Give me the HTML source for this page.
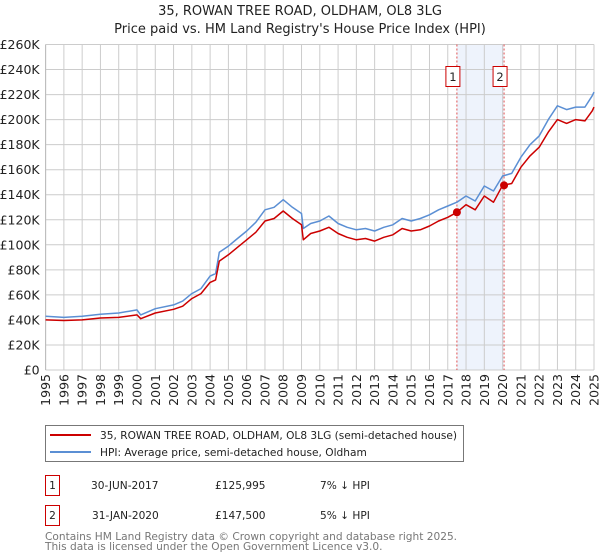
<!DOCTYPE html>
<html><head><meta charset="utf-8"><style>
body{margin:0;background:#fff;font-family:"Liberation Sans","DejaVu Sans",sans-serif;}
svg{display:block}
</style></head><body>
<svg id="c" width="600" height="560" xmlns="http://www.w3.org/2000/svg" font-family="DejaVu Sans, Liberation Sans, sans-serif">
<text x="300" y="15" text-anchor="middle" font-size="13" fill="#222">35, ROWAN TREE ROAD, OLDHAM, OL8 3LG</text>
<text x="300" y="33" text-anchor="middle" font-size="13" fill="#222">Price paid vs. HM Land Registry's House Price Index (HPI)</text>
<g id="plot"></g>
<g>
<rect x="45.5" y="425.5" width="418" height="36" fill="#fff" stroke="#777"/>
<line x1="50" y1="435" x2="91" y2="435" stroke="#cc0000" stroke-width="2"/>
<text x="100" y="439" font-size="10.6" fill="#222">35, ROWAN TREE ROAD, OLDHAM, OL8 3LG (semi-detached house)</text>
<line x1="50" y1="452" x2="91" y2="452" stroke="#5b8fd4" stroke-width="2"/>
<text x="100" y="456" font-size="10.6" fill="#222">HPI: Average price, semi-detached house, Oldham</text>
</g>
<g font-size="10.6" fill="#222">
<rect x="45.5" y="475.5" width="14" height="20" fill="#fff" stroke="#cc0000"/>
<text x="52.5" y="489" text-anchor="middle">1</text>
<text x="91" y="489">30-JUN-2017</text>
<text x="215" y="489">£125,995</text>
<text x="320" y="489">7% ↓ HPI</text>
<rect x="45.5" y="505.5" width="14" height="20" fill="#fff" stroke="#cc0000"/>
<text x="52.5" y="519" text-anchor="middle">2</text>
<text x="92" y="519">31-JAN-2020</text>
<text x="215" y="519">£147,500</text>
<text x="320" y="519">5% ↓ HPI</text>
</g>
<text x="45" y="540" font-size="10.6" fill="#777">Contains HM Land Registry data © Crown copyright and database right 2025.</text>
<text x="45" y="550" font-size="10.6" fill="#777">This data is licensed under the Open Government Licence v3.0.</text>
</svg>
<script>
const hpiYears=[1995,1996,1997,1998,1999,2000,2000.2,2001,2002,2002.5,2003,2003.5,2004,2004.3,2004.5,2005,2005.5,2006,2006.5,2007,2007.5,2008,2008.5,2009,2009.1,2009.5,2010,2010.5,2011,2011.5,2012,2012.5,2013,2013.5,2014,2014.5,2015,2015.5,2016,2016.5,2017,2017.5,2018,2018.5,2019,2019.5,2020,2020.5,2021,2021.5,2022,2022.5,2023,2023.5,2024,2024.5,2024.9,2025];
const hpiValues=[43,42,43,44.5,45.5,48,44,49,52,55,61,65,75,77,94,99,105,111,118,128,130,136,130,125,113,117,119,123,117,114,112,113,111,114,116,121,119,121,124,128,131,134,139,135,147,143,155,157,170,180,187,200,211,208,210,210,219,222];
const propValues=[40,39.5,40,41.5,42,44,41,45.5,48.5,51,57,61,70,72,87,92,98,104,110,119,121,127,121,116,104,109,111,114,109,106,104,105,103,106,108,113,111,112,115,119,122,126,132,128,139,134,147.5,149,162,171,178,190,200,197,200,199,207,210];
const saleYears=[2017.5,2020.08];
const saleValues=[125995,147500];
const saleLabels=["1","2"];
const yTicks=[0,20,40,60,80,100,120,140,160,180,200,220,240,260];
const xTicks=[1995,1996,1997,1998,1999,2000,2001,2002,2003,2004,2005,2006,2007,2008,2009,2010,2011,2012,2013,2014,2015,2016,2017,2018,2019,2020,2021,2022,2023,2024,2025];

const X0=45.6,X1=594,Y0=370,Y1=44.5;
const xs=y=>X0+(y-1995)/30*(X1-X0);
const ys=v=>Y0-v/260*(Y0-Y1);
const NS="http://www.w3.org/2000/svg";
const g=document.getElementById('plot');
function mk(t,a){const e=document.createElementNS(NS,t);for(const k in a)e.setAttribute(k,a[k]);g.appendChild(e);return e;}

const shade=mk('rect',{x:xs(saleYears[0]),y:Y1,width:xs(saleYears[1])-xs(saleYears[0]),height:Y0-Y1,fill:'#eef3fc'});



yTicks.forEach(v=>{
 const l=mk('line',{x1:X0,x2:X1,y1:ys(v),y2:ys(v),stroke:'#cccccc','stroke-width':1});
 
 
 const t=mk('text',{x:X0-6,y:ys(v)+4.5,'text-anchor':'end','font-size':'12.5',fill:'#222'});
 t.textContent=v===0?'£0':'£'+v+'K';
 
 
});
xTicks.forEach(yr=>{
 const l=mk('line',{x1:xs(yr),x2:xs(yr),y1:Y1,y2:Y0,stroke:'#cccccc','stroke-width':1});
 
 
 const t=mk('text',{x:0,y:0,'text-anchor':'end','font-size':'12.5',fill:'#222',transform:`translate(${xs(yr)+4.5},${Y0+4}) rotate(-90)`});
 t.textContent=yr;
 
 
});
const ax=mk('line',{x1:X0,x2:X0,y1:Y1,y2:Y0,stroke:'#bbb'});



saleYears.forEach((yr,i)=>{
 const l=mk('line',{x1:xs(yr),x2:xs(yr),y1:Y1,y2:Y0,stroke:'#e05050','stroke-width':1,'stroke-dasharray':'2,2'});
 
 
});

function path(vals,color,name){
 const d=hpiYears.map((yr,i)=>(i?'L':'M')+xs(yr).toFixed(1)+','+ys(vals[i]).toFixed(1)).join('');
 const p=mk('path',{d:d,fill:'none',stroke:color,'stroke-width':1.5,'stroke-linejoin':'round'});
 
 
}
path(hpiValues,'#5b8fd4','hpi-line');
path(propValues,'#cc0000','property-price-line');

saleYears.forEach((yr,i)=>{
 const c=mk('circle',{cx:xs(yr),cy:ys(saleValues[i]/1000),r:4,fill:'#cc0000'});
 
 
 const bx=xs(yr)-4;
 const r=mk('rect',{x:bx-7,y:66.5,width:14,height:20,fill:'#fff',stroke:'#cc0000'});
 
 
 const t=mk('text',{x:bx,y:81,'text-anchor':'middle','font-size':'11.5',fill:'#222'});
 t.textContent=saleLabels[i];
 
 
});
</script>
</body></html>
